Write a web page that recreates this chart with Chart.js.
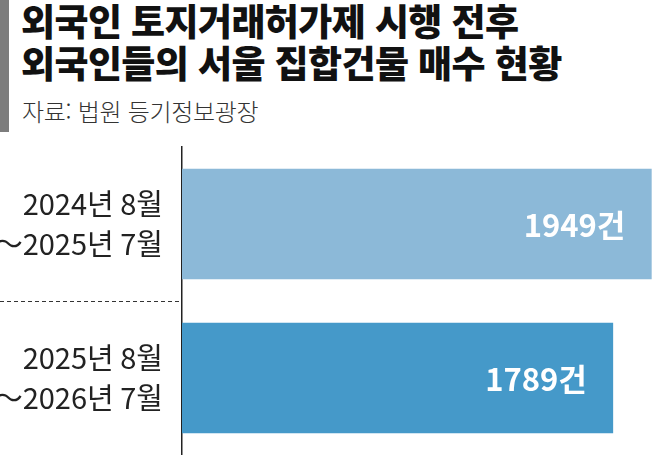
<!DOCTYPE html>
<html lang="ko">
<head>
<meta charset="utf-8">
<script src="https://cdn.jsdelivr.net/npm/chart.js@4"></script>
<style>
  html, body { margin: 0; padding: 0; background: #fff; }
  body { width: 654px; height: 455px; position: relative; overflow: hidden; font-family: "Noto Sans CJK KR", sans-serif; }
  #bar { position: absolute; left: 0; top: 0; width: 9px; height: 132px; background: #7d7d7d; }
  .title { position: absolute; left: 21px; font-size: 37px; font-weight: 900; color: #111; line-height: 42px; letter-spacing: -0.6px; white-space: nowrap; }
  #t1 { top: -1px; }
  #t2 { top: 41px; }
  #src { position: absolute; left: 22px; top: 96px; font-size: 24px; font-weight: 300; color: #333; line-height: 30px; letter-spacing: -0.3px; white-space: nowrap; }
  #chart { position: absolute; left: 0; top: 140px; }
</style>
</head>
<body>
<div id="bar"></div>
<div class="title" id="t1">외국인 토지거래허가제 시행 전후</div>
<div class="title" id="t2">외국인들의 서울 집합건물 매수 현황</div>
<div id="src">자료: 법원 등기정보광장</div>
<canvas id="chart" width="654" height="315"></canvas>
<script>
// 데이터
const periods = [['2024년 8월', '～2025년 7월'], ['2025년 8월', '～2026년 7월']];
const counts  = [1949, 1789];
const unit    = '건';
const barColors = ['#8cb9d8', '#4599c9'];

// 범주 사이 점선 + 막대 안쪽 값 라벨
const extras = {
  id: 'extras',
  afterDatasetsDraw(chart) {
    const { ctx, chartArea, scales } = chart;
    const y = scales.y;
    ctx.save();
    // 점선 구분
    const mid = Math.round((y.getPixelForValue(0) + y.getPixelForValue(1)) / 2) + 0.5;
    ctx.strokeStyle = '#333';
    ctx.lineWidth = 1;
    ctx.setLineDash([4, 3]);
    ctx.beginPath();
    ctx.moveTo(0, mid);
    ctx.lineTo(chartArea.left, mid);
    ctx.stroke();
    ctx.setLineDash([]);
    // 값 라벨
    ctx.fillStyle = '#fff';
    ctx.font = 'bold 31px "Noto Sans CJK KR", sans-serif';
    ctx.textAlign = 'right';
    ctx.textBaseline = 'middle';
    chart.getDatasetMeta(0).data.forEach((bar, i) => {
      ctx.fillText(counts[i] + unit, Math.min(bar.x, chartArea.right) - 26, bar.y + 1);
    });
    ctx.restore();
  },
};

new Chart(document.getElementById('chart'), {
  type: 'bar',
  data: {
    labels: periods,
    datasets: [{
      data: counts,
      backgroundColor: barColors,
      borderWidth: 0,
      barThickness: 110,
    }],
  },
  options: {
    indexAxis: 'y',
    responsive: false,
    animation: false,
    layout: { padding: { top: 7, right: 0, bottom: 0, left: 0 } },
    plugins: { legend: { display: false }, tooltip: { enabled: false } },
    scales: {
      x: { display: false, min: 0, max: 1960 },
      y: {
        afterFit(scale) {
          scale.width = 182;
          scale.paddingTop = 0;
          scale.paddingBottom = 0;
        },
        grid: { display: false, drawTicks: false },
        border: { display: true, color: '#222', width: 1.5 },
        ticks: {
          color: '#222',
          padding: 19,
          font: { family: '"Noto Sans CJK KR", sans-serif', size: 29, lineHeight: 1.35 },
        },
      },
    },
  },
  plugins: [extras],
});
</script>
</body>
</html>
